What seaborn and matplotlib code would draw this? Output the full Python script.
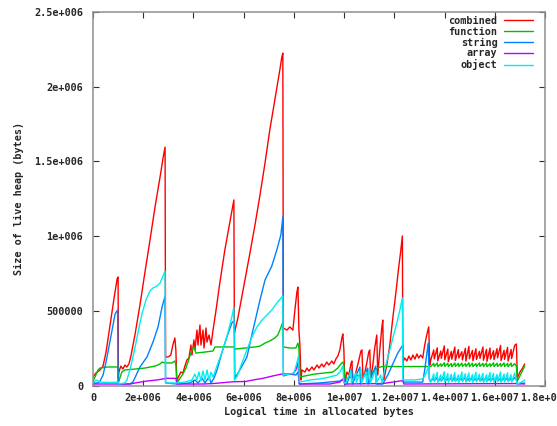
import numpy as np
import pandas as pd
import matplotlib
matplotlib.use("Agg")
import matplotlib.pyplot as plt
from matplotlib.lines import Line2D
import seaborn as sns

# Times are in millions of allocated bytes, heap sizes in thousands of bytes.
combined_t = [0.00, 0.12, 0.28, 0.40, 0.52, 0.68, 0.84, 0.96, 1.00, 1.01,
              1.03, 1.11, 1.19, 1.27, 1.35, 1.43, 1.51, 1.67, 1.87, 2.07, 2.27, 2.47, 2.67, 2.79, 2.87,
              2.89, 2.99, 3.10, 3.18, 3.26, 3.30, 3.34,
              3.35, 3.42, 3.50, 3.58, 3.66, 3.74, 3.82, 3.90, 3.94, 4.02, 4.06, 4.14, 4.18, 4.26, 4.30,
              4.38, 4.42, 4.50, 4.54, 4.62, 4.70, 4.78, 4.90, 5.05, 5.25, 5.45, 5.61,
              5.63, 5.77, 6.05, 6.25, 6.45, 6.65, 6.85, 7.04, 7.24, 7.44, 7.52, 7.56,
              7.58, 7.72, 7.84, 7.96, 8.04, 8.12, 8.16, 8.20, 8.24, 8.28,
              8.32, 8.44, 8.52, 8.60, 8.72, 8.80, 8.92, 9.00, 9.11, 9.19, 9.31, 9.39, 9.51, 9.59, 9.67,
              9.75, 9.83, 9.91, 9.95, 9.99, 10.03,
              10.11, 10.19, 10.27, 10.31, 10.35, 10.43, 10.51, 10.59, 10.67, 10.71, 10.75, 10.83, 10.91,
              10.98, 11.02, 11.06, 11.14, 11.22, 11.30, 11.34, 11.42, 11.50, 11.54, 11.58,
              11.70, 11.82, 11.94, 12.06, 12.18, 12.26, 12.32, 12.34,
              12.42, 12.50, 12.58, 12.66, 12.74, 12.82, 12.90, 12.97, 13.05, 13.13, 13.21, 13.29, 13.37, 13.41]
combined_kb = [57, 84, 104, 130, 224, 405, 586, 713, 726, 50,
               90, 130, 110, 137, 124, 144, 197, 338, 539, 760, 974, 1195, 1395, 1523, 1596,
               191, 191, 204, 271, 318, 238, 17,
               37, 64, 90, 84, 130, 171, 184, 271, 204, 305, 238, 371, 271, 405, 271,
               371, 251, 385, 291, 338, 271, 371, 505, 686, 907, 1094, 1242,
               351, 452, 706, 887, 1074, 1275, 1489, 1710, 1911, 2112, 2199, 2225,
               385, 371, 392, 371, 505, 626, 659, 371, 271, 37,
               104, 90, 117, 97, 124, 104, 137, 117, 144, 124, 157, 137, 164, 144, 177,
               197, 238, 318, 345, 238, 17,
               90, 70, 144, 164, 37, 64, 117, 171, 231, 238, 50, 90, 157,
               224, 238, 50, 130, 251, 338, 70, 238, 385, 438, 37,
               137, 271, 452, 619, 800, 907, 1001, 157,
               184, 164, 197, 171, 204, 177, 211, 184, 204, 184, 271, 338, 392, 137]
combined_end_t = [16.86, 16.90, 17.00, 17.11, 17.19]
combined_end_kb = [278, 50, 90, 117, 144]

function_t = [0.00, 0.08, 0.20, 0.28, 0.60, 1.00, 1.01, 1.07, 1.15, 1.27, 1.67, 2.07, 2.47, 2.67,
              2.75, 2.87, 3.14, 3.26, 3.30, 3.34, 3.42, 3.58, 3.70, 3.78, 3.86, 3.94, 4.02, 4.10,
              4.46, 4.78, 4.86, 5.61, 5.65, 6.05, 6.45, 6.65, 6.85, 7.04, 7.24, 7.36, 7.44, 7.52,
              7.56, 7.58, 7.84, 8.08, 8.16, 8.20, 8.24, 8.44, 8.84, 9.23, 9.55, 9.75, 9.87, 9.95,
              9.99, 10.03, 10.43, 10.83, 11.14, 11.34, 11.50, 12.34, 13.33, 13.41]
function_kb = [30, 57, 104, 117, 124, 124, 17, 50, 90, 104, 110, 117, 130, 144,
               157, 151, 151, 164, 144, 17, 37, 77, 117, 157, 197, 238, 258, 217,
               224, 231, 258, 258, 244, 251, 258, 264, 284, 298, 318, 338, 371, 405,
               425, 258, 251, 251, 284, 251, 57, 64, 77, 84, 90, 117, 144, 157,
               137, 44, 64, 70, 84, 117, 127, 127, 127, 130]
function_end_t = [16.86, 16.90, 17.00, 17.19]
function_end_kb = [130, 30, 64, 130]

string_t = [0.00, 0.20, 0.28, 0.40, 0.52, 0.64, 0.76, 0.88, 0.98, 1.00,
            1.47, 1.59, 1.87, 2.15, 2.39, 2.59, 2.75, 2.87, 2.89, 3.34,
            3.86, 4.06, 4.18, 4.34, 4.46, 4.62, 4.70, 4.82, 4.94, 5.13, 5.33, 5.53, 5.63,
            5.65, 5.85, 6.13, 6.37, 6.65, 6.85, 7.12, 7.32, 7.48, 7.56,
            7.58, 7.84, 8.08, 8.16, 8.22, 9.03, 9.83, 9.99, 10.03,
            10.11, 10.31, 10.33, 10.63, 10.65, 10.94, 10.96, 11.26, 11.28,
            11.54, 11.74, 11.94, 12.14, 12.34, 12.36, 13.13, 13.21, 13.35, 13.39]
string_kb = [17, 17, 30, 70, 157, 264, 371, 479, 505, 10,
             10, 23, 124, 191, 291, 392, 525, 599, 17, 10,
             17, 37, 17, 50, 17, 57, 17, 50, 104, 218, 325, 418, 438,
             50, 104, 191, 371, 572, 706, 800, 907, 1007, 1128,
             64, 77, 70, 90, 10, 17, 30, 44, 10,
             10, 110, 10, 124, 10, 117, 10, 130, 10,
             10, 70, 144, 218, 271, 23, 23, 104, 284, 44]
string_end_t = [16.86, 16.90, 17.19]
string_end_kb = [37, 10, 17]

array_t = [0.00, 1.47, 1.75, 2.15, 2.55, 2.79, 2.91, 3.30, 3.34, 4.38, 4.78, 5.57, 6.09,
           6.37, 6.77, 7.16, 7.52, 7.96, 8.08, 8.16, 8.22, 9.43, 9.83, 9.99, 10.03,
           11.54, 12.34, 12.38, 16.86, 17.19]
array_kb = [10, 10, 19, 30, 37, 44, 48, 48, 10, 10, 13, 25, 27,
            37, 48, 64, 77, 77, 104, 157, 10, 10, 23, 47, 10,
            13, 33, 10, 13, 10]

object_t = [0.00, 0.12, 0.28, 0.68, 1.00, 1.01,
            1.27, 1.35, 1.47, 1.59, 1.71, 1.83, 1.95, 2.11, 2.27, 2.39, 2.55, 2.67, 2.79, 2.87,
            2.89, 3.34, 3.66, 3.94, 4.06, 4.14, 4.22, 4.30, 4.38, 4.46, 4.54, 4.62, 4.70, 4.78,
            4.98, 5.17, 5.37, 5.53, 5.61, 5.63, 5.73, 5.93, 6.13, 6.33, 6.53, 6.73, 6.93, 7.12,
            7.32, 7.56, 7.58, 7.84, 8.00, 8.12, 8.18, 8.22, 8.64, 9.03, 9.43, 9.71, 9.83, 9.95,
            9.99, 10.07, 10.27, 10.29, 10.47, 10.49, 10.67, 10.69, 10.87, 10.89, 11.02, 11.04,
            11.26, 11.28, 11.46, 11.50, 11.68, 11.82, 11.96, 12.10, 12.22, 12.32, 12.34,
            12.82, 13.13, 13.25, 13.37, 13.41]
object_kb = [17, 37, 23, 20, 23, 10,
             17, 37, 104, 191, 284, 385, 479, 572, 633, 653, 666, 686, 733, 766,
             17, 17, 23, 37, 77, 37, 90, 30, 97, 37, 104, 37, 90, 57,
             151, 238, 351, 458, 525, 37, 57, 151, 238, 325, 392, 438, 472, 505,
             552, 599, 70, 77, 84, 151, 197, 23, 37, 44, 57, 70, 90, 130,
             17, 17, 97, 17, 84, 17, 110, 17, 90, 17, 117, 17,
             104, 17, 70, 17, 151, 238, 331, 418, 505, 586, 37,
             37, 44, 77, 130, 30]
object_end_t = [16.86, 16.90, 17.07, 17.19]
object_end_kb = [30, 10, 23, 37]

# Allocation cycles after 1.34e7: start of each cycle and its high point.
cycle_lo_t = [13.45, 13.59, 13.73, 13.87, 14.01, 14.15, 14.29, 14.43, 14.57, 14.71, 14.85, 14.99,
              15.13, 15.27, 15.41, 15.55, 15.69, 15.83, 15.97, 16.11, 16.25, 16.39, 16.53, 16.67]
cycle_hi_t = [13.57, 13.71, 13.85, 13.99, 14.13, 14.27, 14.41, 14.55, 14.69, 14.83, 14.97, 15.11,
              15.25, 15.39, 15.53, 15.67, 15.81, 15.95, 16.09, 16.23, 16.37, 16.51, 16.65, 16.79]
combined_lo = [170, 178, 165, 182, 172, 160, 176, 168, 184, 171, 163, 179,
               166, 174, 181, 169, 162, 177, 173, 185, 167, 175, 164, 180]
combined_hi = [238, 252, 231, 265, 244, 228, 257, 240, 226, 249, 262, 235,
               246, 229, 258, 242, 251, 233, 247, 268, 236, 255, 241, 268]
function_lo = [127, 127, 126, 127, 128, 127, 126, 127, 127, 128, 127, 126,
               127, 127, 128, 127, 126, 127, 127, 127, 128, 127, 126, 127]
function_hi = [148, 150, 146, 152, 149, 147, 151, 148, 150, 146, 152, 149,
               147, 151, 148, 150, 146, 152, 149, 147, 151, 148, 150, 146]
string_lo = [30, 32, 29, 31, 30, 33, 29, 30, 32, 31, 29, 30,
             33, 31, 30, 29, 32, 30, 31, 29, 30, 32, 31, 30]
string_hi = [48, 52, 45, 55, 47, 50, 53, 46, 49, 54, 47, 51,
             45, 52, 48, 55, 46, 50, 53, 47, 49, 51, 46, 52]
object_lo = [22, 25, 20, 27, 23, 21, 26, 24, 20, 25, 22, 27,
             21, 24, 26, 20, 23, 25, 22, 27, 21, 24, 26, 23]
object_hi = [78, 88, 72, 92, 80, 75, 86, 70, 90, 79, 84, 73,
             89, 76, 82, 71, 87, 80, 74, 91, 77, 85, 72, 83]

names = ["combined", "function", "string", "array", "object"]
colors = ["#ff0000", "#00c000", "#0080ff", "#c000ff", "#00eeee"]


def cycles(lo, hi):
    t, v = [], []
    for a, b, c, d in zip(cycle_lo_t, lo, cycle_hi_t, hi):
        t += [a, c]
        v += [b, d]
    return t, v


def build(name, t, v):
    return pd.DataFrame({"time": np.asarray(t, float) * 1e6,
                         "size": np.asarray(v, float) * 1e3,
                         "kind": name})


ct, cv = cycles(combined_lo, combined_hi)
ft, fv = cycles(function_lo, function_hi)
st, sv = cycles(string_lo, string_hi)
ot, ov = cycles(object_lo, object_hi)

series = [
    build("combined", combined_t + ct + combined_end_t, combined_kb + cv + combined_end_kb),
    build("function", function_t + ft + function_end_t, function_kb + fv + function_end_kb),
    build("string", string_t + st + string_end_t, string_kb + sv + string_end_kb),
    build("array", array_t, array_kb),
    build("object", object_t + ot + object_end_t, object_kb + ov + object_end_kb),
]

sns.set_theme(style="white")
plt.rcParams["font.family"] = ["DejaVu Sans Mono"]
plt.rcParams["font.weight"] = "bold"
FS = 7.3

fig = plt.figure(figsize=(5.57, 4.26), dpi=100)
W, H = 557, 426
ax = fig.add_axes([93 / W, 1 - 385.5 / H, (545 - 93) / W, (385.5 - 12) / H])

for df, col in zip(series, colors):
    sns.lineplot(data=df, x="time", y="size", estimator=None, sort=False,
                 color=col, linewidth=1.0, ax=ax, legend=False)

ax.set_xlim(0, 1.8e7)
ax.set_ylim(0, 2.5e6)

x_ticks = [0, 2e6, 4e6, 6e6, 8e6, 1e7, 1.2e7, 1.4e7, 1.6e7, 1.8e7]
x_labels = ["0", "2e+006", "4e+006", "6e+006", "8e+006", "1e+007",
            "1.2e+007", "1.4e+007", "1.6e+007", "1.8e+007"]
y_ticks = [0, 5e5, 1e6, 1.5e6, 2e6, 2.5e6]
y_labels = ["0", "500000", "1e+006", "1.5e+006", "2e+006", "2.5e+006"]
ax.set_xticks(x_ticks)
ax.set_xticklabels(x_labels, fontsize=FS, fontweight="bold")
ax.set_yticks(y_ticks)
ax.set_yticklabels(y_labels, fontsize=FS, fontweight="bold")
ax.tick_params(axis="both", direction="in", length=4, width=0.8, color="#303030",
               top=True, right=True, bottom=True, left=True)
ax.tick_params(axis="x", pad=5.5)
ax.tick_params(axis="y", pad=7)

for sp in ax.spines.values():
    sp.set_color("#909090")
    sp.set_linewidth(1.1)

ax.set_xlabel("Logical time in allocated bytes", fontsize=FS, fontweight="bold")
ax.set_ylabel("Size of live heap (bytes)", fontsize=FS, fontweight="bold", va="center")
ax.xaxis.set_label_coords(0.5, -0.058)
ax.yaxis.set_label_coords(-0.163, 0.5)

handles = [Line2D([], [], color=c, lw=1.0) for c in colors]
ax.legend(handles, names, loc="upper right", bbox_to_anchor=(533 / W, 1 - 16 / H),
          bbox_transform=fig.transFigure, frameon=False, markerfirst=False,
          handlelength=2.9, handletextpad=0.6, labelspacing=0.08, borderpad=0,
          borderaxespad=0, prop={"family": "DejaVu Sans Mono", "weight": "bold", "size": FS})

fig.savefig("out.png", dpi=100)
